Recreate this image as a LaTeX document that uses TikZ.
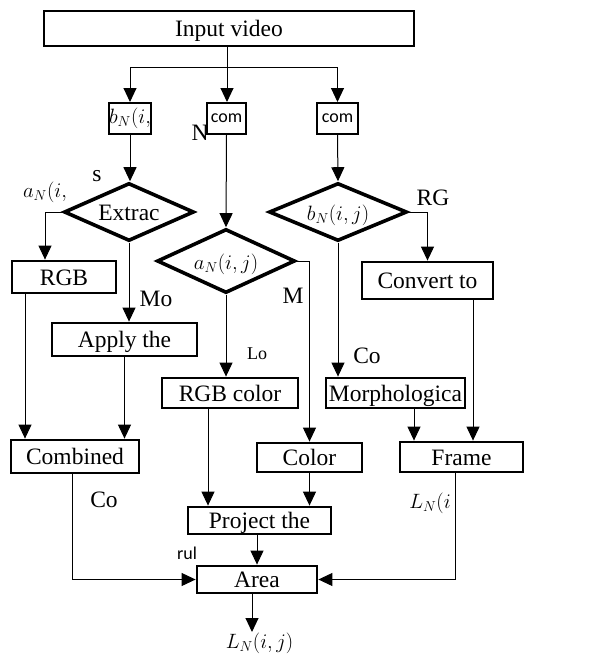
\documentclass[tikz,border=0pt]{standalone}
\usepackage{fontspec}
\setmainfont{Liberation Serif}
\newfontfamily\calibri{Carlito}
\usetikzlibrary{shapes.geometric,arrows.meta}

\begin{document}
\begin{tikzpicture}[x=1pt, y=-1pt, line width=1pt,
  box/.style={draw, line width=2.8pt, inner sep=0pt, text height=16pt, text depth=0pt, font=\fontsize{23.5}{26}\selectfont},
  small/.style={draw, line width=2pt, inner sep=0pt, minimum width=40pt, minimum height=31pt},
  test/.style={diamond, draw, line width=3.6pt, inner sep=0pt, aspect=2.2, text height=16pt, text depth=0pt, font=\fontsize{23.5}{26}\selectfont},
  lbl/.style={inner sep=0pt, font=\fontsize{23.5}{26}\selectfont},
  arr/.style={-{Triangle[width=13pt,length=14pt]}}]
  \useasboundingbox (0,0) rectangle (590,656);

  \node [box, minimum width=370pt, minimum height=35pt] (input) at (229,28.5) {Input video};
  \node [small, font=\fontsize{19.5}{22}\selectfont] (bN) at (130,118.5) {$b_N(i,$};
  \node [small, minimum width=39pt, font=\calibri\fontsize{18}{20}\selectfont] (comM) at (226.5,118.5) {com};
  \node [small, minimum width=41pt, font=\calibri\fontsize{18}{20}\selectfont] (comR) at (337.5,118.5) {com};

  \node [test, minimum width=130pt, minimum height=58pt] (extr) at (129,212) {Extrac};
  \node [test, minimum width=138pt, minimum height=64pt, font=\fontsize{19.5}{22}\selectfont] (aN) at (226,261) {$a_N(i,j)$};
  \node [test, minimum width=138pt, minimum height=58pt, font=\fontsize{19.5}{22}\selectfont] (bNd) at (338,212) {$b_N(i,j)$};

  \node [box, minimum width=104pt, minimum height=32pt] (rgb) at (64,277) {RGB};
  \node [box, minimum width=145pt, minimum height=33pt] (apply) at (124.5,339.5) {Apply the};
  \node [box, minimum width=131pt, minimum height=37pt] (conv) at (427.5,280.5) {Convert to};
  \node [box, minimum width=136pt, minimum height=30pt] (rgbcol) at (230,393) {RGB color};
  \node [box, minimum width=139pt, minimum height=30pt] (morph) at (395.5,393) {Morphologica};
  \node [box, minimum width=128pt, minimum height=33pt] (comb) at (75,456.5) {Combined};
  \node [box, minimum width=105pt, minimum height=29pt] (color) at (309.5,457.5) {Color};
  \node [box, minimum width=123pt, minimum height=30pt] (frame) at (461.5,457) {Frame};
  \node [box, minimum width=143pt, minimum height=27pt] (proj) at (259.5,520.5) {Project the};
  \node [box, minimum width=120pt, minimum height=27pt] (area) at (257,579.5) {Area};

  % loose labels
  \node [lbl] (nN) at (200,133) {N};
  \node [lbl] (nS) at (97,176) {s};
  \node [lbl, font=\fontsize{19.5}{22}\selectfont] (nA) at (45,192) {$a_N(i,$};
  \node [lbl] (nRG) at (433,198) {RG};
  \node [lbl] (nMo) at (156,299) {Mo};
  \node [lbl] (nM) at (293,296) {M};
  \node [lbl, font=\fontsize{18}{20}\selectfont] (nLo) at (257,354) {Lo};
  \node [lbl] (nCo) at (367,356) {Co};
  \node [lbl] (nCo2) at (104,500) {Co};
  \node [lbl, font=\fontsize{19.5}{22}\selectfont] (nL) at (430,503) {$L_N(i$};
  \node [lbl, font=\calibri\fontsize{18}{20}\selectfont] (nrul) at (187,553) {rul};
  \node [lbl, anchor=north, font=\fontsize{19.5}{22}\selectfont] (out) at (259.5,632) {$L_N(i,j)$};

  \coordinate (split) at (227,67);
  \draw (input.south -| split) -- (split);
  \draw [arr] (split) -| (bN);
  \draw [arr] (split) -- (split |- comM.north);
  \draw [arr] (split) -| (comR);
  \draw [arr] (bN.south) -- (bN.south |- extr.north);
  \draw [arr] (comM.south) -- (aN.north);
  \draw [arr] (comR.south) -- (bNd.north);
  \draw [arr] (extr.west) -| ([xshift=-19pt]rgb.north);
  \draw [arr] (extr.south) -- (extr.south |- apply.north);
  \draw [arr] (aN.east) -| (color.north);
  \draw [arr] (aN.south) -- (aN.south |- rgbcol.north);
  \draw [arr] (bNd.south) -- (bNd.south |- morph.north);
  \draw [arr] (bNd.east) -| (conv.north);
  \draw [arr] ([xshift=-39pt]rgb.south) -- ([xshift=-39pt]rgb.south |- comb.north);
  \draw [arr] (apply.south) -- (apply.south |- comb.north);
  \draw [arr] ([xshift=-22pt]rgbcol.south) -- ([xshift=-22pt]rgbcol.south |- proj.north);
  \draw [arr] (color.south) -- (color.south |- proj.north);
  \draw [arr] ([xshift=18.5pt]morph.south) -- ([xshift=18.5pt]morph.south |- frame.north);
  \draw [arr] ([xshift=45.5pt]conv.south) -- ([xshift=45.5pt]conv.south |- frame.north);
  \draw [arr] (area.north |- proj.south) -- (area.north);
  \draw [arr] ([xshift=-3pt]comb.south) |- (area.west);
  \draw [arr] ([xshift=-6.5pt]frame.south) |- (area.east);
  \draw [arr] ([xshift=-5pt]area.south) -- ([xshift=-5pt]area.south |- out.north);
\end{tikzpicture}
\end{document}
